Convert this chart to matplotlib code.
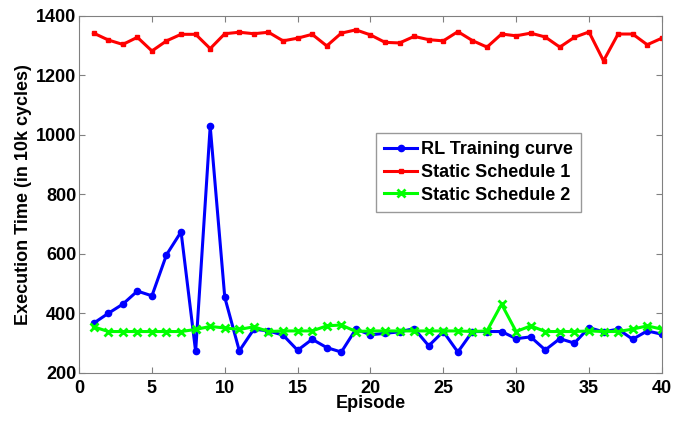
import numpy as np
from matplotlib import pyplot as plt

plt.rcParams['font.family'] = ['Liberation Sans', 'DejaVu Sans']
plt.rcParams['font.weight'] = 'bold'

episodes = np.arange(1, 41)

# execution time per episode (in 10k cycles)
rl_training = [366, 399, 430, 474, 458, 596, 673, 271, 1028, 453,
               273, 346, 340, 326, 275, 312, 284, 269, 346, 327,
               332, 337, 348, 290, 338, 269, 338, 338, 338, 314,
               320, 276, 314, 299, 351, 337, 346, 312, 340, 329]
static_1 = [1341, 1318, 1303, 1327, 1281, 1315, 1337, 1337, 1289, 1339,
            1344, 1339, 1344, 1315, 1324, 1337, 1298, 1341, 1352, 1335,
            1310, 1308, 1330, 1319, 1315, 1346, 1316, 1294, 1338, 1332,
            1341, 1328, 1294, 1327, 1345, 1248, 1338, 1338, 1302, 1324]
static_2 = [354, 338, 338, 338, 338, 338, 338, 345, 355, 350,
            345, 354, 338, 340, 340, 340, 357, 360, 338, 340,
            340, 340, 340, 340, 340, 340, 338, 340, 430, 338,
            357, 338, 338, 338, 340, 338, 338, 346, 357, 346]

fs = 13

fig = plt.figure(figsize=(6.76, 4.21), dpi=100)
ax = fig.add_axes([0.117, 0.115, 0.862, 0.848])

ax.plot(episodes, rl_training, color='#0000ff', lw=2.2, marker='o',
        markersize=4.5, label='RL Training curve')
ax.plot(episodes, static_1, color='#ff0000', lw=2.2, marker='s',
        markersize=3.5, label='Static Schedule 1')
ax.plot(episodes, static_2, color='#00ff00', lw=2.2, marker='x',
        markersize=6, mew=2, label='Static Schedule 2')

ax.set_xlim(0, 40)
ax.set_ylim(200, 1400)
ax.set_xticks(np.arange(0, 41, 5))
ax.set_yticks(np.arange(200, 1401, 200))
ax.tick_params(direction='in', top=True, right=True, labelsize=fs,
               color='#808080', length=4)
ax.tick_params(axis='y', pad=2)
ax.tick_params(axis='x', pad=5)
for lab in ax.get_xticklabels() + ax.get_yticklabels():
    lab.set_fontweight('bold')
for s in ax.spines.values():
    s.set_color('#808080')

ax.set_xlabel('Episode', fontsize=fs, fontweight='bold', labelpad=-1)
ax.set_ylabel('Execution Time (in 10k cycles)', fontsize=fs, fontweight='bold',
              labelpad=3)

leg = ax.legend(loc='upper left', bbox_to_anchor=(0.51, 0.671), fontsize=fs,
                fancybox=False, handlelength=1.8, handletextpad=0.2,
                borderpad=0.45, labelspacing=0.32, borderaxespad=0)
leg.get_frame().set_edgecolor('#808080')
leg.get_frame().set_linewidth(1.0)
for t in leg.get_texts():
    t.set_fontweight('bold')

plt.savefig('out.png', dpi=100)
